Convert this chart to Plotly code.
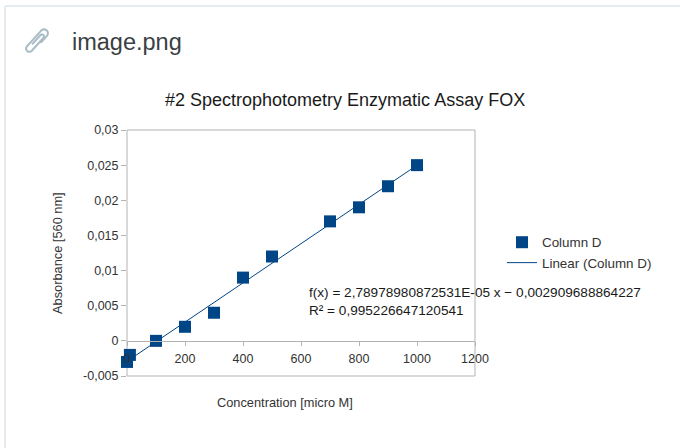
import numpy as np
import plotly.graph_objects as go

# Measured assay data
concentration = [0, 10, 100, 200, 300, 400, 500, 700, 800, 900, 1000]
absorbance = [-0.003, -0.002, 0.0, 0.002, 0.004, 0.009, 0.012, 0.017, 0.019, 0.022, 0.025]

# Linear trend line parameters (as printed in the equation)
slope = 2.78978980872531e-05
intercept = -0.002909688864227
r_squared_text = "0,995226647120541"

x_tick_vals = [0, 200, 400, 600, 800, 1000, 1200]
x_tick_text = ["0", "200", "400", "600", "800", "1000", "1200"]
y_tick_vals = [-0.005, 0, 0.005, 0.01, 0.015, 0.02, 0.025, 0.03]
y_tick_text = ["-0,005", "0", "0,005", "0,01", "0,015", "0,02", "0,025", "0,03"]

BLUE = "#004586"
GRID = "#b3b3b3"
TXT = "#333333"
FONT = "Liberation Sans, Arial, sans-serif"

# Page geometry (pixels) of the plotting box
W_PX, H_PX = 680, 448
L, R, T, B = 127, 475, 130, 376
PW, PH = R - L, B - T


def px(x):
    return (x - L) / PW


def py(y):
    return (B - y) / PH


fig = go.Figure()

fit_x = [min(concentration), max(concentration)]
fit_y = [slope * v + intercept for v in fit_x]
fig.add_trace(go.Scatter(
    x=fit_x, y=fit_y, mode="lines", name="Linear (Column D)",
    line=dict(color=BLUE, width=1), legendrank=2, cliponaxis=False,
))
fig.add_trace(go.Scatter(
    x=concentration, y=absorbance, mode="markers", name="Column D",
    marker=dict(symbol="square", size=12, color=BLUE), legendrank=1, cliponaxis=False,
))

y_lo, y_hi = -0.005, 0.03

shapes = [
    # plot frame
    dict(type="rect", xref="paper", yref="paper", x0=0, y0=0, x1=1, y1=1,
         line=dict(color=GRID, width=1), layer="below"),
    # card border
    dict(type="line", xref="paper", yref="paper", x0=px(5), y0=py(6), x1=px(W_PX + 5), y1=py(6),
         line=dict(color="#e6ebf0", width=2)),
    dict(type="line", xref="paper", yref="paper", x0=px(5), y0=py(6), x1=px(5), y1=py(H_PX + 5),
         line=dict(color="#e6ebf0", width=2)),
]

# paperclip icon drawn as a polyline
def arc(cv, cu, r, a0, a1, n=12):
    t = np.linspace(a0, a1, n)
    return [(cv + r * np.cos(a), cu + r * np.sin(a)) for a in t]

pts = [(-1.6, -4.0), (-1.6, 6.0)]
pts += arc(0.0, 6.0, 1.6, np.pi, 0)
pts += [(1.6, -8.0)]
pts += arc(-1.0, -8.0, 2.6, 0, -np.pi)
pts += [(-3.6, 9.0)]
pts += arc(-0.5, 9.0, 3.1, np.pi, 0)
pts += [(2.6, 2.0)]

ang = np.deg2rad(48)
cx, cy = 37, 42
scale = 1.25
path = []
for i, (v, u) in enumerate(pts):
    # u along clip length (upwards), v across
    sx = cx + scale * (u * np.cos(ang) + v * np.sin(ang))
    sy = cy - scale * (u * np.sin(ang) - v * np.cos(ang))
    path.append(("M" if i == 0 else "L") + f"{px(sx):.5f},{py(sy):.5f}")
shapes.append(dict(type="path", xref="paper", yref="paper", path=" ".join(path),
                   line=dict(color="#a9bcc5", width=2)))

annotations = [
    dict(text="image.png", x=px(70), y=py(42), xref="paper", yref="paper",
         xanchor="left", yanchor="middle", showarrow=False,
         font=dict(family=FONT, size=23.5, color="#3a3f44")),
    dict(text="#2 Spectrophotometry Enzymatic Assay FOX", x=px(345), y=py(100),
         xref="paper", yref="paper", xanchor="center", yanchor="middle", showarrow=False,
         font=dict(family=FONT, size=18, color="#1a1a1a")),
    dict(text="Concentration [micro M]", x=px(285), y=py(402), xref="paper", yref="paper",
         xanchor="center", yanchor="middle", showarrow=False,
         font=dict(family=FONT, size=12.8, color=TXT)),
    dict(text="Absorbance [560 nm]", x=px(57), y=py(253), xref="paper", yref="paper",
         xanchor="center", yanchor="middle", textangle=-90, showarrow=False,
         font=dict(family=FONT, size=12.8, color=TXT)),
    dict(text=f"f(x) = 2,78978980872531E-05 x − 0,002909688864227<br>R² = {r_squared_text}",
         x=px(307), y=py(301), xref="paper", yref="paper", xanchor="left", yanchor="middle",
         align="left", showarrow=False, font=dict(family=FONT, size=13.6, color="#1a1a1a")),
]

fig.update_layout(
    width=W_PX, height=H_PX,
    margin=dict(l=L, r=W_PX - R, t=T, b=H_PX - B, pad=0),
    paper_bgcolor="white", plot_bgcolor="white",
    showlegend=True,
    legend=dict(x=px(502), y=py(227), xanchor="left", yanchor="top",
                bgcolor="rgba(0,0,0,0)", font=dict(family=FONT, size=13.4, color=TXT),
                tracegroupgap=0, itemclick=False),
    xaxis=dict(range=[0, 1200], anchor="free", position=(0 - y_lo) / (y_hi - y_lo),
               showgrid=False, zeroline=False, showline=True, linecolor=GRID, linewidth=1,
               ticks="outside", ticklen=4, tickcolor=GRID, tickvals=x_tick_vals,
               ticktext=x_tick_text, ticklabelstandoff=2,
               tickfont=dict(family=FONT, size=12.5, color=TXT)),
    yaxis=dict(range=[y_lo, y_hi], showgrid=False, zeroline=False, showline=False,
               ticks="outside", ticklen=5, tickcolor=GRID, tickvals=y_tick_vals,
               ticktext=y_tick_text, tickfont=dict(family=FONT, size=12.5, color=TXT)),
    shapes=shapes, annotations=annotations,
)

fig.write_html("out.html")
